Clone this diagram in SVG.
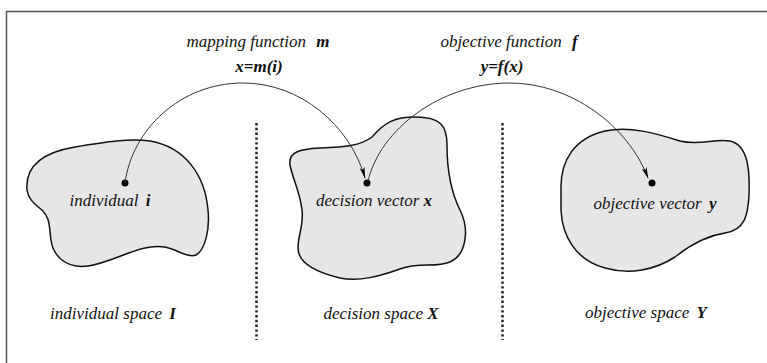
<svg xmlns="http://www.w3.org/2000/svg" width="767" height="363" viewBox="0 0 767 363">
<defs>
<style>
.blob{fill:#e6e6e6;stroke:#111;stroke-width:1.5}
.frame{stroke:#555;stroke-width:1.5;fill:none}
.sep{stroke:#222;stroke-width:2.5;stroke-dasharray:2.4 2.4;fill:none}
.arc{fill:none;stroke:#333;stroke-width:1}
.dot{fill:#000}
.t{font-size:17px;font-style:italic;fill:#111;text-anchor:middle}
.b{font-weight:bold}
</style>
<marker id="ah" viewBox="0 0 12 6" refX="11" refY="3" markerWidth="12" markerHeight="6" markerUnits="userSpaceOnUse" orient="auto">
<path d="M0,0.5 L12,3 L0,5.5 L3,3 Z" fill="#000"/>
</marker>
</defs>
<rect width="767" height="363" fill="#fff"/>
<path class="frame" d="M6.5,363 V11.5 H767"/>
<g id="separators">
<line class="sep" x1="256.5" y1="123" x2="256.5" y2="340"/>
<line class="sep" x1="502.5" y1="123" x2="502.5" y2="340"/>
</g>
<g font-family="'Liberation Serif', 'Times New Roman', 'DejaVu Serif', serif">
<g id="individual-space">
<path class="blob" d="M27,190 C25,165 45,152 75,147 C105,142 130,138 150,141 C185,147 205,175 208,210 C210,230 205,250 196,255 C188,258 178,250 165,247 C140,243 115,262 88,266 C65,269 53,255 51,240 C49,225 50,218 42,210 C33,203 28,198 27,190 Z"/>
<circle class="dot" cx="125" cy="183" r="3.5"/>
<text class="t" x="110" y="206">individual <tspan class="b" dx="3">i</tspan></text>
<text class="t" x="113" y="319">individual space <tspan class="b" dx="3">I</tspan></text>
</g>
<g id="decision-space">
<path class="blob" d="M290,165 C288,152 300,149 320,148 C345,147 360,146 372,137 C385,122 395,117 415,117 C440,117 447,125 447,145 C447,170 450,190 460,210 C470,230 466,255 450,262 C435,268 420,262 400,269 C380,276 360,282 340,278 C315,272 298,262 298,248 C298,235 304,225 302,210 C300,192 293,180 290,165 Z"/>
<circle class="dot" cx="367" cy="183" r="3.5"/>
<text class="t" x="374" y="206">decision vector <tspan class="b">x</tspan></text>
<text class="t" x="381" y="319">decision space <tspan class="b">X</tspan></text>
</g>
<g id="objective-space">
<path class="blob" d="M561,190 C560,160 575,138 605,131 C630,126 655,133 680,141 C700,146 715,138 730,141 C748,145 750,170 749,195 C748,215 745,230 725,233 C705,236 690,245 675,257 C655,270 630,275 605,268 C575,260 562,235 561,210 Z"/>
<circle class="dot" cx="652" cy="183" r="3.5"/>
<text class="t" x="655" y="209">objective vector <tspan class="b" dx="3">y</tspan></text>
<text class="t" x="646" y="318">objective space <tspan class="b" dx="3">Y</tspan></text>
</g>
<g id="connectors">
<path class="arc" marker-end="url(#ah)" d="M125,183 C132,130 180,83 243,83 C300,83 350,125 365,178"/>
<path class="arc" marker-end="url(#ah)" d="M368,181 C380,130 440,83 510,83 C570,83 628,125 648,178"/>
</g>
<g id="labels">
<text class="t" x="258" y="47">mapping function <tspan class="b" dx="6">m</tspan></text>
<text class="t b" x="259" y="72">x=m(i)</text>
<text class="t" x="509" y="47">objective function <tspan class="b" dx="6">f</tspan></text>
<text class="t b" x="502" y="72">y=f(x)</text>
</g>
</g>
</svg>
